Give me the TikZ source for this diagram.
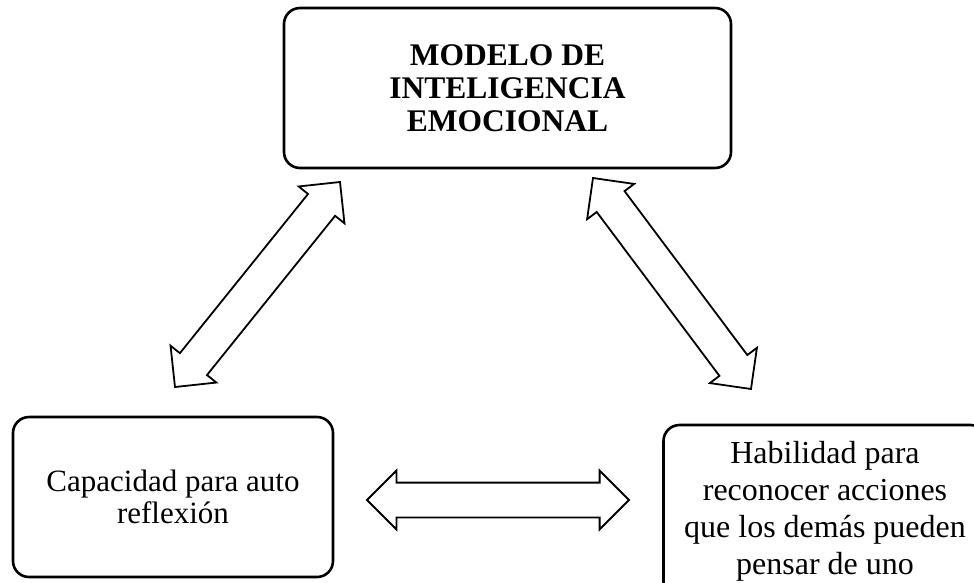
\documentclass[tikz,border=0pt]{standalone}
\usepackage{fontspec}
\setmainfont{Liberation Serif}
\usepackage{tikz}
\usetikzlibrary{calc,shapes.arrows}

\newcommand\linkarrow[2]{%
\path let \p1=($(#2)-(#1)$), \n1={veclen(\x1,\y1)}, \n2={atan2(\y1,\x1)} in
  node[dblarrow, minimum height=\n1, rotate=\n2] at ($(#1)!0.5!(#2)$) {};}

\begin{document}
\begin{tikzpicture}[x=1pt,y=-1pt]
\tikzset{box/.style={draw, line width=2.6pt, rounded corners=16pt, align=center, inner sep=0pt}}
\tikzset{dblarrow/.style={draw, line width=1.8pt, double arrow, double arrow head extend=12pt,
  double arrow tip angle=90, double arrow head indent=0pt, inner xsep=0pt, inner ysep=16.5pt}}
\useasboundingbox (0,0) rectangle (974,582);
\clip (0,0) rectangle (974,582);
\node[box, minimum width=447pt, minimum height=160pt, font=\fontsize{31.5}{33}\selectfont\bfseries]
  (modelo) at (507.5,88) {MODELO DE\\INTELIGENCIA\\EMOCIONAL};
\node[box, minimum width=320pt, minimum height=160pt, font=\fontsize{31}{32}\selectfont]
  (capacidad) at (173,497) {Capacidad para auto\\reflexión};
\node[box, minimum width=323pt, minimum height=173pt, font=\fontsize{32}{37}\selectfont]
  (habilidad) at (825,511.5) {Habilidad para\\reconocer acciones\\que los demás pueden\\pensar de uno};
\coordinate (c1) at (175,387);
\coordinate (c2) at (340,182);
\coordinate (c3) at (593,178);
\coordinate (c4) at (751,389);
\coordinate (c5) at (367,500);
\coordinate (c6) at (629,500);
\linkarrow{c1}{c2}
\linkarrow{c3}{c4}
\linkarrow{c5}{c6}
\end{tikzpicture}
\end{document}
